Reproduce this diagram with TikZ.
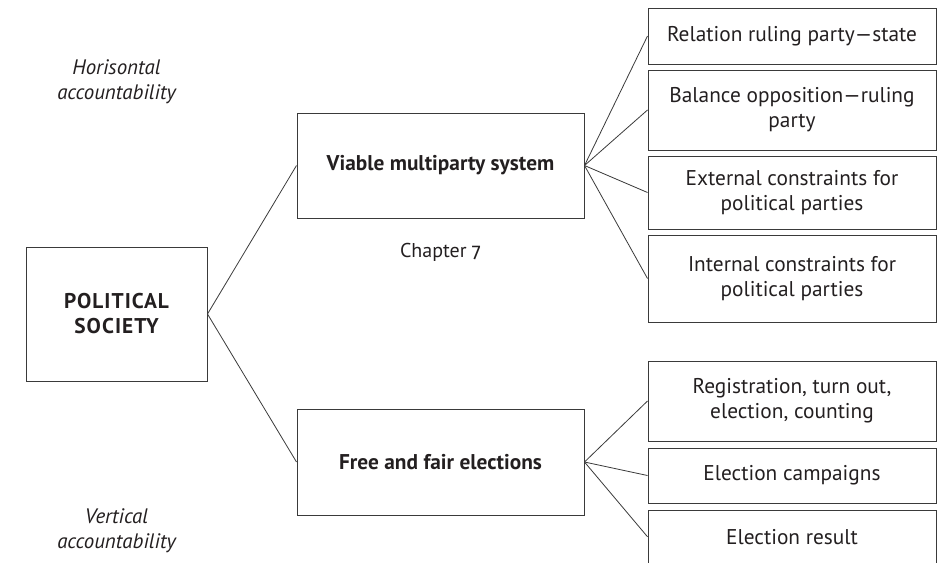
\documentclass[tikz,border=0pt]{standalone}
\usepackage{fontspec}
\setmainfont{PT Sans}
\newfontfamily\oldnum[Numbers=OldStyle]{Fira Sans}
\definecolor{ink}{HTML}{231F20}
\definecolor{rule}{HTML}{3A3A3A}

\begin{document}
\begin{tikzpicture}[x=0.75pt,y=-0.75pt,
  sized/.style 2 args={minimum width=#1*0.75pt, minimum height=#2*0.75pt},
  box/.style={draw=rule, line width=0.75pt, inner sep=0pt, align=center,
    text=ink, font=\fontsize{16}{18.75}\selectfont},
  hub/.style={box, font=\fontsize{16}{18.75}\selectfont\bfseries},
  link/.style={draw=rule, line width=0.6pt},
  note/.style={text=ink, align=center, inner sep=0pt,
    font=\fontsize{15.7}{18.75}\selectfont\itshape}]
\useasboundingbox (0,0) rectangle (942,562);
\clip (0,0) rectangle (942,562);

% root
\node[hub, sized={181}{134},
  font=\fontsize{16}{18.75}\selectfont\bfseries\addfontfeatures{LetterSpace=5}]
  (ps) at (116.5,314) {POLITICAL\\SOCIETY};

% two pillars
\node[hub, sized={287}{105}] (vms) at (440.5,165.5) {Viable multiparty system};
\node[hub, sized={287}{106}] (ffe) at (440.5,462)   {Free and fair elections};

% aspects of the multiparty system
\node[box, sized={288}{56}] (r1) at (792,36)    {Relation ruling party---state};
\node[box, sized={288}{80}] (r2) at (792,110)   {Balance opposition---ruling\\party};
\node[box, sized={288}{73}] (r3) at (792,192.5) {External constraints for\\political parties};
\node[box, sized={288}{87}] (r4) at (792,278.5) {Internal constraints for\\political parties};

% aspects of the elections
\node[box, sized={288}{80}]   (e1) at (792,401)    {Registration, turn out,\\election, counting};
\node[box, sized={288}{55}]   (e2) at (792,475.5)  {Election campaigns};
\node[box, sized={288}{53.5}] (e3) at (792,536.75) {Election result};

% side labels
\node[note] (horiz) at (116.5,82)  {Horisontal\\accountability};
\node[note] (vert)  at (116.5,531) {Vertical\\accountability};
\node[text=ink, anchor=base, inner sep=0pt, font=\fontsize{15}{18.75}\selectfont]
  (chap) at (440.5,257) {Chapter {\oldnum 7}};

% connectors
\draw[link] (ps.east) -- (vms.west);
\draw[link] (ps.east) -- (ffe.west);
\foreach \t in {r1,r2,r3,r4} \draw[link] (vms.east) -- (\t.west);
\foreach \t in {e1,e2,e3} \draw[link] (ffe.east) -- (\t.west);
\end{tikzpicture}
\end{document}
